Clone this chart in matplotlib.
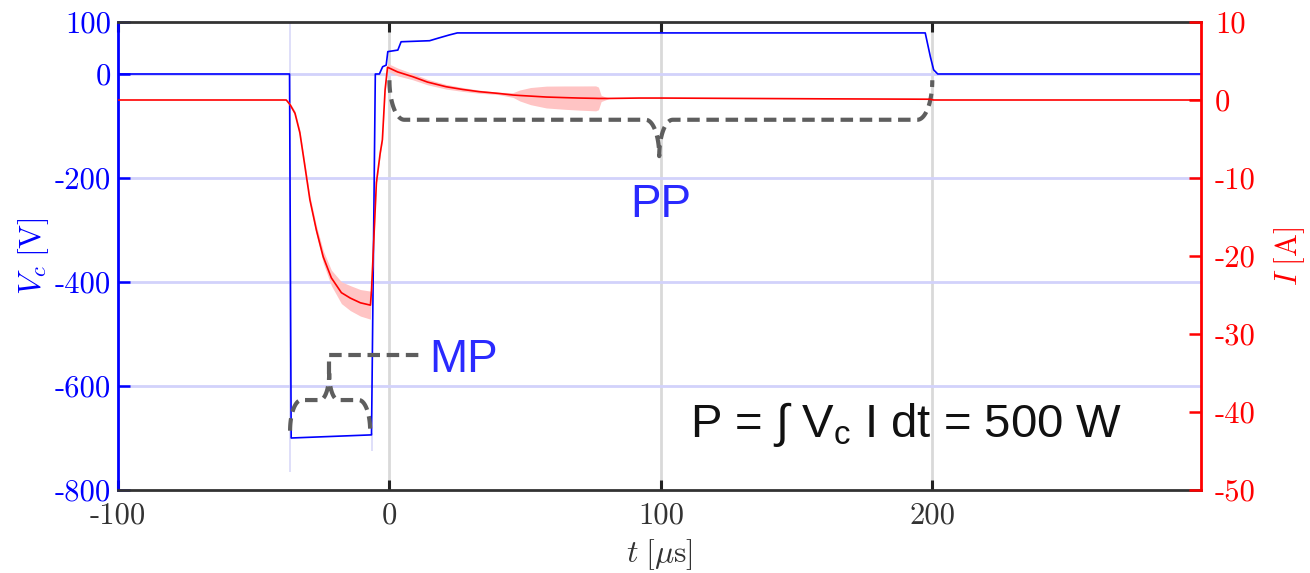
import numpy as np
import matplotlib
matplotlib.use("Agg")
import matplotlib.pyplot as plt

# ---- data ----
# cathode voltage V_c [V] vs time [us]
t_v = [-100, -36.8, -36.2, -6.6, -5.2, -3.7, -2.5, -1.2, -0.6, 3.1, 4.3, 14.8, 18, 22, 25,
       197.4, 199.3, 200.5, 202, 300]
v_c = [0, 0, -700, -694, 0, 0, 14, 17, 43, 46, 62, 64, 69, 75, 79,
       79, 33, 8, 0, 0]

# current I [A] vs time [us], with spread of the shaded band
t_i = [-100, -38, -36.6, -34.8, -33.0, -31.1, -29.3, -26.9, -24.4, -21.4, -17.7, -14.4, -10.7,
       -7.0, -6.6, -4.8, -3.4, -2.6, -1.6, -0.7, 3, 8.5, 14, 20.9, 27, 33, 40, 45.5, 48, 52,
       57.8, 65, 70, 76, 77, 78, 81, 92, 100, 130, 160, 199, 200.5, 300]
cur = [0, 0, -0.6, -1.7, -4.2, -8.6, -12.8, -16.7, -20.1, -22.8, -24.7, -25.4, -26.0,
       -26.3, -24.4, -10.6, -6.8, -5.1, 1.3, 4.2, 3.6, 3.0, 2.3, 1.7, 1.35, 1.07, 0.85, 0.64, 0.58, 0.5,
       0.38, 0.3, 0.25, 0.21, 0.2, 0.2, 0.2, 0.25, 0.25, 0.2, 0.15, 0.1, 0, 0]
cur_spread = [0, 0, 0.2, 0.3, 0.4, 0.5, 0.5, 0.6, 0.8, 1.0, 1.4, 1.6, 1.7,
              1.8, 0.5, 0.3, 0.3, 0.3, 0.3, 0.5, 0.5, 0.4, 0.35, 0.3, 0.25, 0.2, 0.15, 0.3, 0.7, 1.1,
              1.4, 1.5, 1.55, 1.6, 1.45, 0.4, 0, 0, 0, 0, 0, 0, 0, 0]

# pulse edges where the voltage traces of the runs scatter
jitter_t = [-36.8, -6.6]
jitter_lo = [-765, -725]
jitter_hi = [100, -690]

x_ticks = [-100, 0, 100, 200]
v_ticks = [100, 0, -200, -400, -600, -800]
i_ticks = [10, 0, -10, -20, -30, -40, -50]

# annotations (data coords of the voltage axis)
pp_brace = dict(x0=0, x1=200, xc=99.4, y_end=-12, y_mid=-88, y_tip=-158)
mp_brace = dict(x0=-36.6, x1=-7.1, xc=-22.2, y_end=-686, y_mid=-627, y_tip=-576)
mp_leader_y = -540
mp_leader_x = 12.2

BLUE = "#0000ff"
RED = "#ff0000"
TXT_BLUE = "#2a2aff"
GRAY = "#5e5e5e"

plt.rcParams["mathtext.fontset"] = "cm"


def brace_path(x0, x1, xc, y_end, y_mid, y_tip, rx, rc):
    th = np.linspace(0, np.pi / 2, 30)
    # left corner
    xa = x0 + rx * (1 - np.cos(th))
    ya = y_end + (y_mid - y_end) * np.sin(th)
    # into cusp
    xb = xc - rc + rc * np.sin(th)
    yb = y_mid + (y_tip - y_mid) * (1 - np.cos(th))
    # out of cusp (mirror)
    xd = xc + rc - rc * np.sin(th[::-1])
    yd = yb[::-1]
    # right corner
    xe = x1 - rx * (1 - np.cos(th[::-1]))
    ye = y_end + (y_mid - y_end) * np.sin(th[::-1])
    return np.concatenate([xa, xb, xd, xe]), np.concatenate([ya, yb, yd, ye])


fig = plt.figure(figsize=(13.1, 5.73), dpi=100)
ax1 = fig.add_axes([118 / 1310, (573 - 490) / 573, 1083 / 1310, 468 / 573])
ax2 = ax1.twinx()

# grid
for xv in x_ticks[1:]:
    ax1.axvline(xv, color="#d9d9d9", lw=2, zorder=0)
for yv in v_ticks[1:-1]:
    ax1.axhline(yv, color="#d2d2fb", lw=2, zorder=0)

# voltage
ax1.vlines(jitter_t, jitter_lo, jitter_hi, color="#c9c9f5", lw=1.2, alpha=0.7, zorder=1)
ax1.plot(t_v, v_c, color=BLUE, lw=1.2, zorder=3)

# current
lo = np.array(cur) - np.array(cur_spread)
hi = np.array(cur) + np.array(cur_spread)
ax2.fill_between(t_i, lo, hi, color="#ffc4c4", lw=0, zorder=1)
ax2.plot(t_i, cur, color=RED, lw=1.2, zorder=2)

# limits and ticks
ax1.set_xlim(-100, 299)
ax1.set_ylim(-800, 100)
ax2.set_ylim(-50, 10)

tick_font = dict(family="cmr10", size=22)
ax1.set_xticks(x_ticks)
ax1.set_xticklabels([str(v) for v in x_ticks], fontdict=tick_font, color="#333333")
ax1.set_yticks(v_ticks)
ax1.set_yticklabels([str(v) for v in v_ticks], fontdict=tick_font, color=BLUE)
ax2.set_yticks(i_ticks)
ax2.set_yticklabels([str(v) for v in i_ticks], fontdict=tick_font, color=RED)

ax1.tick_params(axis="x", direction="in", length=7, width=2.2, color="#222222",
                top=True, pad=9)
ax1.tick_params(axis="y", direction="in", length=8.5, width=1.8, color=BLUE, pad=5)
ax2.tick_params(axis="y", direction="in", length=8.5, width=1.8, color=RED, pad=10)

for s in ["top", "bottom"]:
    ax1.spines[s].set_color("#333333")
    ax1.spines[s].set_linewidth(2)
    ax2.spines[s].set_visible(False)
ax1.spines["left"].set_color(BLUE)
ax1.spines["left"].set_linewidth(2)
ax1.spines["right"].set_visible(False)
ax2.spines["left"].set_visible(False)
ax2.spines["right"].set_color(RED)
ax2.spines["right"].set_linewidth(2)

ax1.set_ylabel(r"$V_c\;[\mathrm{V}]$", color=BLUE, fontsize=23)
ax1.yaxis.set_label_coords(-0.062, 0.5)
ax2.set_ylabel(r"$I\;[\mathrm{A}]$", color=RED, fontsize=22)
ax2.yaxis.set_label_coords(1.066, 0.5)
ax1.set_xlabel(r"$t\;[\mu\mathrm{s}]$", color="#333333", fontsize=23)
ax1.xaxis.set_label_coords(0.5, -0.1)

# braces
dash = (0, (3, 1.6))
bx, by = brace_path(rx=5.5, rc=5.0, **pp_brace)
ax1.plot(bx, by, color=GRAY, lw=3, ls=dash, zorder=5)
bx, by = brace_path(rx=4.2, rc=3.4, **mp_brace)
ax1.plot(bx, by, color=GRAY, lw=3, ls=dash, zorder=5)
ax1.plot([mp_brace["xc"], mp_brace["xc"], mp_leader_x],
         [mp_brace["y_tip"], mp_leader_y, mp_leader_y],
         color=GRAY, lw=3, ls=dash, zorder=5)

ax1.text(88.7, -275, "PP", color=TXT_BLUE, fontsize=33, family="Liberation Sans",
         va="baseline", ha="left", zorder=6)
ax1.text(14.8, -573, "MP", color=TXT_BLUE, fontsize=33, family="Liberation Sans",
         va="baseline", ha="left", zorder=6)
plt.rcParams["mathtext.rm"] = "Liberation Sans"
ax1.text(110.9, -698, r"P = ∫ $\mathrm{V_c}$ I dt = 500 W", color="#111111", fontsize=34,
         family="Liberation Sans", math_fontfamily="custom",
         va="baseline", ha="left", zorder=6)

ax2.set_zorder(ax1.get_zorder() + 1)

fig.savefig("out.png", dpi=100)
